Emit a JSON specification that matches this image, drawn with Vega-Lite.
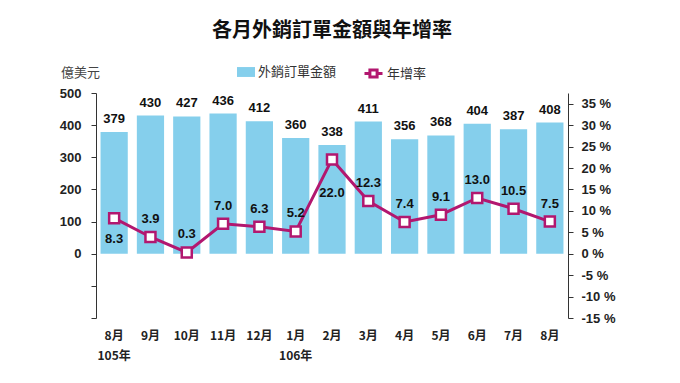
{
  "$schema": "https://vega.github.io/schema/vega-lite/v6.json",
  "autosize": {"type": "none"},
  "width": 472,
  "height": 225,
  "padding": {"left": 96, "top": 93, "right": 112, "bottom": 65},
  "background": "white",
  "title": {
    "text": "各月外銷訂單金額與年增率",
    "font": "Noto Sans CJK TC",
    "fontSize": 20,
    "fontWeight": "bold",
    "color": "#111",
    "anchor": "middle",
    "frame": "group",
    "offset": 22
  },
  "config": {"view": {"stroke": null}},
  "data": {
    "values": [
      {"月份": "8月|105年", "金額": 379, "年增率": 8.3},
      {"月份": "9月", "金額": 430, "年增率": 3.9},
      {"月份": "10月", "金額": 427, "年增率": 0.3},
      {"月份": "11月", "金額": 436, "年增率": 7.0},
      {"月份": "12月", "金額": 412, "年增率": 6.3},
      {"月份": "1月|106年", "金額": 360, "年增率": 5.2},
      {"月份": "2月", "金額": 338, "年增率": 22.0},
      {"月份": "3月", "金額": 411, "年增率": 12.3},
      {"月份": "4月", "金額": 356, "年增率": 7.4},
      {"月份": "5月", "金額": 368, "年增率": 9.1},
      {"月份": "6月", "金額": 404, "年增率": 13.0},
      {"月份": "7月", "金額": 387, "年增率": 10.5},
      {"月份": "8月", "金額": 408, "年增率": 7.5}
    ]
  },
  "encoding": {
    "x": {
      "field": "月份",
      "type": "ordinal",
      "sort": null,
      "scale": {"paddingInner": 0.25, "paddingOuter": 0.125},
      "axis": {
        "title": null,
        "domain": false,
        "ticks": false,
        "labelAngle": 0,
        "labelExpr": "split(datum.value, '|')",
        "labelFont": "Noto Sans CJK TC",
        "labelFontSize": 12,
        "labelFontWeight": "bold",
        "labelColor": "#222",
        "labelPadding": 12,
        "labelLineHeight": 20
      }
    }
  },
  "layer": [
    {
      "encoding": {
        "y": {
          "field": "金額",
          "type": "quantitative",
          "scale": {"domain": [-200, 500], "nice": false, "zero": false},
          "axis": {
            "title": "億美元",
            "titleAngle": 0,
            "titleX": -16,
            "titleY": -21,
            "titleAlign": "center",
            "titleBaseline": "middle",
            "titleFont": "Noto Sans CJK TC",
            "titleFontSize": 13,
            "titleFontWeight": "normal",
            "titleColor": "#444",
            "values": [-200, -100, 0, 100, 200, 300, 400, 500],
            "labelExpr": "datum.value >= 0 ? datum.value : ''",
            "labelOverlap": false,
            "labelBound": false,
            "labelFlush": false,
            "labelFont": "Liberation Sans Narrow, Liberation Sans, Arial, sans-serif",
            "labelFontSize": 13,
            "labelFontWeight": "bold",
            "labelColor": "#222",
            "labelPadding": 10,
            "tickSize": 5,
            "tickColor": "#333",
            "domainColor": "#333",
            "grid": false
          }
        }
      },
      "layer": [
        {
          "mark": {"type": "bar"},
          "encoding": {
            "fill": {
              "datum": "外銷訂單金額",
              "scale": {"range": ["#85CFEC"]},
              "legend": {
                "title": null,
                "orient": "none",
                "legendX": 141,
                "legendY": -30,
                "symbolType": "M-1,-0.55H1V0.55H-1Z",
                "symbolSize": 324,
                "symbolStrokeWidth": 0,
                "labelFont": "Noto Sans CJK TC",
                "labelFontSize": 13,
                "labelColor": "#333",
                "labelOffset": 3
              }
            }
          }
        },
        {
          "mark": {
            "type": "text",
            "baseline": "bottom",
            "dy": -6,
            "font": "Liberation Sans Narrow, Liberation Sans, Arial, sans-serif",
            "fontSize": 13,
            "fontWeight": "bold",
            "color": "#111"
          },
          "encoding": {
            "text": {"field": "金額", "type": "quantitative"}
          }
        },
        {
          "mark": {"type": "rule", "color": "#555", "strokeWidth": 1},
          "encoding": {
            "y": {
              "datum": 0,
              "type": "quantitative",
              "scale": {"domain": [-200, 500], "nice": false, "zero": false},
              "axis": {
                "title": "億美元",
                "titleAngle": 0,
                "titleX": -16,
                "titleY": -21,
                "titleAlign": "center",
                "titleBaseline": "middle",
                "titleFont": "Noto Sans CJK TC",
                "titleFontSize": 13,
                "titleFontWeight": "normal",
                "titleColor": "#444",
                "values": [-200, -100, 0, 100, 200, 300, 400, 500],
                "labelExpr": "datum.value >= 0 ? datum.value : ''",
                "labelOverlap": false,
                "labelBound": false,
                "labelFlush": false,
                "labelFont": "Liberation Sans Narrow, Liberation Sans, Arial, sans-serif",
                "labelFontSize": 13,
                "labelFontWeight": "bold",
                "labelColor": "#222",
                "labelPadding": 10,
                "tickSize": 5,
                "tickColor": "#333",
                "domainColor": "#333",
                "grid": false
              }
            }
          }
        }
      ]
    },
    {
      "encoding": {
        "y": {
          "field": "年增率",
          "type": "quantitative",
          "scale": {"domain": [-15, 37.5], "nice": false, "zero": false},
          "axis": {
            "orient": "right",
            "title": null,
            "values": [-15, -10, -5, 0, 5, 10, 15, 20, 25, 30, 35],
            "labelExpr": "datum.value + ' %'",
            "labelOverlap": false,
            "labelBound": false,
            "labelFlush": false,
            "labelFont": "Liberation Sans Narrow, Liberation Sans, Arial, sans-serif",
            "labelFontSize": 13,
            "labelFontWeight": "bold",
            "labelColor": "#222",
            "labelPadding": 8,
            "tickSize": 5,
            "tickColor": "#333",
            "domainColor": "#333",
            "grid": false
          }
        }
      },
      "layer": [
        {
          "mark": {"type": "line", "strokeWidth": 3},
          "encoding": {
            "stroke": {
              "datum": "年增率",
              "scale": {"range": ["#B2176F"]},
              "legend": {
                "title": null,
                "orient": "none",
                "legendX": 267,
                "legendY": -30,
                "symbolType": "M-1,0H-0.4M0.4,0H1M-0.4,-0.4H0.4V0.4H-0.4Z",
                "symbolSize": 324,
                "symbolStrokeWidth": 3,
                "symbolFillColor": "white",
                "labelFont": "Noto Sans CJK TC",
                "labelFontSize": 13,
                "labelColor": "#333",
                "labelOffset": 3
              }
            }
          }
        },
        {
          "mark": {"type": "point", "shape": "square", "filled": true, "fill": "white", "stroke": "#B2176F", "strokeWidth": 2.5, "size": 100, "opacity": 1}
        },
        {
          "transform": [{"filter": "datum['月份'] != '8月|105年' && datum['月份'] != '2月'"}],
          "mark": {"type": "text", "baseline": "middle", "dy": -18, "font": "Liberation Sans Narrow, Liberation Sans, Arial, sans-serif", "fontSize": 13, "fontWeight": "bold", "color": "#111"},
          "encoding": {
            "text": {"field": "年增率", "type": "quantitative", "format": ".1f"}
          }
        },
        {
          "transform": [{"filter": "datum['月份'] == '8月|105年'"}],
          "mark": {"type": "text", "baseline": "middle", "dy": 21, "font": "Liberation Sans Narrow, Liberation Sans, Arial, sans-serif", "fontSize": 13, "fontWeight": "bold", "color": "#111"},
          "encoding": {
            "text": {"field": "年增率", "type": "quantitative", "format": ".1f"}
          }
        },
        {
          "transform": [{"filter": "datum['月份'] == '2月'"}],
          "mark": {"type": "text", "baseline": "middle", "dy": 34, "font": "Liberation Sans Narrow, Liberation Sans, Arial, sans-serif", "fontSize": 13, "fontWeight": "bold", "color": "#111"},
          "encoding": {
            "text": {"field": "年增率", "type": "quantitative", "format": ".1f"}
          }
        }
      ]
    }
  ],
  "resolve": {"scale": {"y": "independent", "fill": "independent", "stroke": "independent"}}
}
